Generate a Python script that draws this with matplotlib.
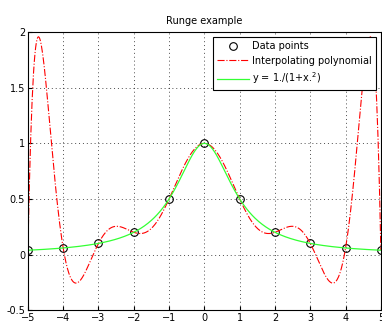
import numpy as np
import matplotlib.pyplot as plt

# data points
x_pts = [-5, -4, -3, -2, -1, 0, 1, 2, 3, 4, 5]
y_pts = [0.0385, 0.0588, 0.1, 0.2, 0.5, 1.0, 0.5, 0.2, 0.1, 0.0588, 0.0385]

x_ticks = [-5, -4, -3, -2, -1, 0, 1, 2, 3, 4, 5]
y_ticks = [-0.5, 0, 0.5, 1, 1.5, 2]
y_tick_labels = ['-0.5', '0', '0.5', '1', '1.5', '2']

# degree-10 interpolating polynomial through the points
coef = np.polyfit(x_pts, y_pts, len(x_pts) - 1)
xx = np.linspace(-5, 5, 501)
yy_poly = np.polyval(coef, xx)
yy_func = 1. / (1 + xx ** 2)  # curve named in the legend

fig = plt.figure(figsize=(3.82, 3.22), dpi=100)
ax = fig.add_axes([0.073, 0.037, 0.924, 0.863])

ax.plot(x_pts, y_pts, 'o', mfc='none', mec='black', ms=5.5, mew=0.8, label='Data points')
ax.plot(xx, yy_poly, '-.', color='red', lw=0.8, label='Interpolating polynomial')
ax.plot(xx, yy_func, '-', color='#33ff33', lw=0.9, label='y = 1./(1+x.$^2$)')

ax.set_xlim(-5, 5)
ax.set_ylim(-0.5, 2)
ax.set_xticks(x_ticks)
ax.set_yticks(y_ticks)
ax.set_yticklabels(y_tick_labels)
ax.tick_params(labelsize=7, direction='in', length=3, pad=2)
ax.grid(True, linestyle=(0, (1, 3)), color='black', lw=0.7, alpha=0.7)
ax.set_title('Runge example', fontsize=7)

leg = ax.legend(loc='upper right', fontsize=7, fancybox=False, framealpha=1,
                edgecolor='black', borderpad=0.4, handlelength=3.3,
                handletextpad=0.3, borderaxespad=0.5)
leg.get_frame().set_linewidth(0.8)

plt.savefig('out.png', dpi=100)
